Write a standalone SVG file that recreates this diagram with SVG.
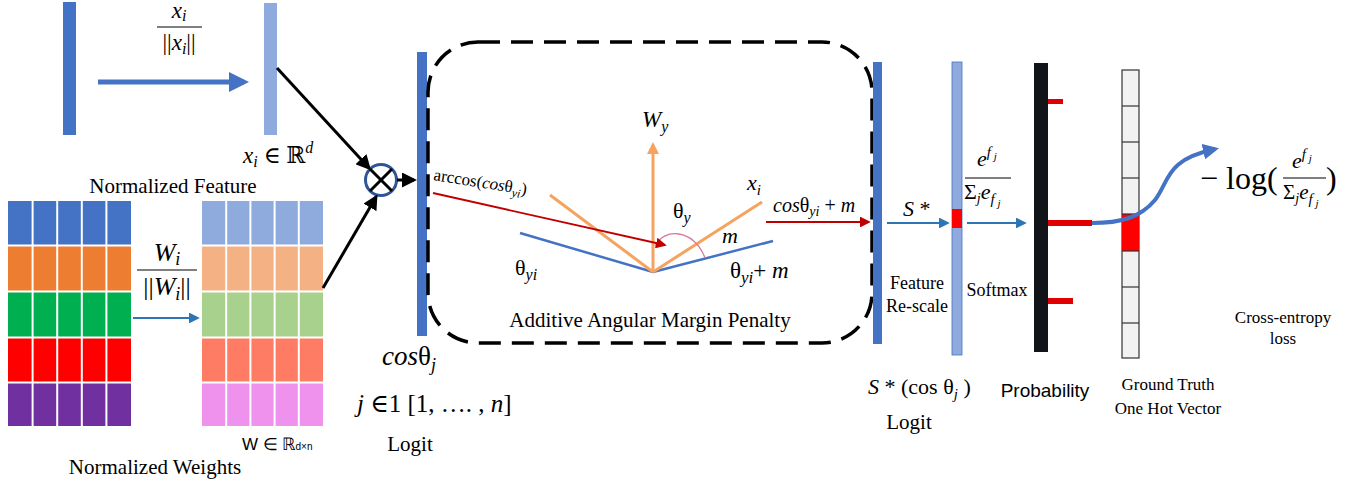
<svg xmlns="http://www.w3.org/2000/svg" width="1353" height="487" viewBox="0 0 1353 487">
<style>
.serif{font-family:"Liberation Serif","Times New Roman",serif;fill:#000}
.math{font-family:"Liberation Serif","DejaVu Serif",serif;font-style:italic;fill:#000}
.up{font-style:normal}
.sans{font-family:"Liberation Sans",Arial,sans-serif;fill:#000}
.cell{stroke:#fff;stroke-width:2}
.blk{stroke:#000;stroke-width:3;fill:none}
.thinblue{stroke:#2E75B6;stroke-width:1.8;fill:none}
.red{stroke:#C00000;stroke-width:1.8;fill:none}
.orange{stroke:#F4A460;stroke-width:3;fill:none}
.vblue{stroke:#4472C4;stroke-width:2.5;fill:none}
.frac{stroke:#000;stroke-width:1.2}
</style>
<defs>
<marker id="aBlack" markerWidth="5" markerHeight="5" refX="4" refY="2.5" orient="auto" markerUnits="strokeWidth"><path d="M0,0 L5,2.5 L0,5 z" fill="#000"/></marker>
<marker id="aBigBlue" markerWidth="4" markerHeight="4" refX="3" refY="2" orient="auto" markerUnits="strokeWidth"><path d="M0,0 L4,2 L0,4 z" fill="#4472C4"/></marker>
<marker id="aThinBlue" markerWidth="6" markerHeight="6" refX="5" refY="3" orient="auto" markerUnits="strokeWidth"><path d="M0,0 L6,3 L0,6 z" fill="#2E75B6"/></marker>
<marker id="aRed" markerWidth="6" markerHeight="6" refX="5" refY="3" orient="auto" markerUnits="strokeWidth"><path d="M0,0 L6,3 L0,6 z" fill="#C00000"/></marker>
<marker id="aOrange" markerWidth="4" markerHeight="4" refX="3" refY="2" orient="auto" markerUnits="strokeWidth"><path d="M0,0 L4,2 L0,4 z" fill="#F4A460"/></marker>
</defs>

<g id="input-feature">
<rect x="63" y="2" width="13" height="133" fill="#4472C4"/>
<text class="math" x="179" y="18" text-anchor="middle" font-size="23">x<tspan font-size="16" dy="3">i</tspan></text>
<line class="frac" x1="157" y1="27" x2="202" y2="27"/>
<text class="math" x="179" y="50" text-anchor="middle" font-size="23"><tspan class="up">||</tspan>x<tspan font-size="16" dy="4">i</tspan><tspan class="up" dy="-4">||</tspan></text>
</g>

<g id="normalized-feature">
<rect x="264" y="3" width="13" height="132" fill="#8FAADC"/>
<text class="math" x="243" y="163" font-size="23">x<tspan font-size="16" dy="4">i</tspan><tspan class="up" dy="-4"> ∈ ℝ</tspan><tspan font-size="16" dy="-10">d</tspan></text>
<text class="serif" x="173" y="193" text-anchor="middle" font-size="21">Normalized Feature</text>
</g>

<g id="weights">
<rect x="8" y="201" width="123" height="44" fill="#4472C4"/>
<rect x="8" y="246" width="123" height="45" fill="#ED7D31"/>
<rect x="8" y="292" width="123" height="45" fill="#00B050"/>
<rect x="8" y="338" width="123" height="44" fill="#FF0000"/>
<rect x="8" y="383" width="123" height="43" fill="#7030A0"/>
<g class="cell">
<line x1="32.6" y1="201" x2="32.6" y2="426"/><line x1="57.2" y1="201" x2="57.2" y2="426"/><line x1="81.8" y1="201" x2="81.8" y2="426"/><line x1="106.4" y1="201" x2="106.4" y2="426"/>
<line x1="8" y1="245.5" x2="131" y2="245.5"/><line x1="8" y1="291.5" x2="131" y2="291.5"/><line x1="8" y1="337.5" x2="131" y2="337.5"/><line x1="8" y1="382.5" x2="131" y2="382.5"/>
</g>
<text class="math" x="167" y="261" text-anchor="middle" font-size="26">W<tspan font-size="18" dy="4">i</tspan></text>
<line class="frac" x1="137" y1="270" x2="197" y2="270"/>
<text class="math" x="167" y="295" text-anchor="middle" font-size="26"><tspan class="up">||</tspan>W<tspan font-size="18" dy="5">i</tspan><tspan class="up" dy="-5">||</tspan></text>
<text class="serif" x="155" y="474" text-anchor="middle" font-size="21">Normalized Weights</text>
</g>

<g id="normalized-weights">
<rect x="202" y="201" width="121" height="44" fill="#8FAADC"/>
<rect x="202" y="246" width="121" height="45" fill="#F4B183"/>
<rect x="202" y="292" width="121" height="45" fill="#A9D18E"/>
<rect x="202" y="338" width="121" height="44" fill="#FF7C64"/>
<rect x="202" y="383" width="121" height="43" fill="#EE92EE"/>
<g class="cell">
<line x1="226.2" y1="201" x2="226.2" y2="426"/><line x1="250.4" y1="201" x2="250.4" y2="426"/><line x1="274.6" y1="201" x2="274.6" y2="426"/><line x1="298.8" y1="201" x2="298.8" y2="426"/>
<line x1="202" y1="245.5" x2="323" y2="245.5"/><line x1="202" y1="291.5" x2="323" y2="291.5"/><line x1="202" y1="337.5" x2="323" y2="337.5"/><line x1="202" y1="382.5" x2="323" y2="382.5"/>
</g>
<text class="sans" x="242" y="450" font-size="17">W ∈ ℝ<tspan font-size="10">d×n</tspan></text>
</g>

<g id="multiply">
<circle cx="381" cy="180" r="15.5" fill="#fff" stroke="#2F5597" stroke-width="3"/>
<line x1="370" y1="169" x2="392" y2="191" stroke="#000" stroke-width="3"/>
<line x1="392" y1="169" x2="370" y2="191" stroke="#000" stroke-width="3"/>
</g>

<g id="logit">
<rect x="417" y="52" width="10" height="284" fill="#4472C4"/>
<text class="math" x="382" y="365" font-size="27">cos<tspan class="up">θ</tspan><tspan font-size="18" dy="6">j</tspan></text>
<text class="math" x="357" y="412" font-size="25">j <tspan class="up">∈1 [1, …. , </tspan>n<tspan class="up">]</tspan></text>
<text class="serif" x="410" y="451" text-anchor="middle" font-size="21">Logit</text>
</g>

<g id="margin-penalty">
<rect x="428" y="42" width="444" height="301" rx="50" ry="50" fill="none" stroke="#000" stroke-width="3.5" stroke-dasharray="22 11"/>
<line class="vblue" x1="520" y1="233" x2="653" y2="272"/>
<line class="vblue" x1="653" y1="272" x2="773" y2="241"/>
<line class="orange" x1="550" y1="195" x2="653" y2="272"/>
<line class="orange" x1="653" y1="272" x2="762" y2="202"/>
<line class="orange" x1="653" y1="272" x2="653" y2="145" marker-end="url(#aOrange)"/>
<path d="M655,246 C663,228 694,228 705,258" fill="none" stroke="#D9779A" stroke-width="1.3"/>
<line class="red" x1="433" y1="193" x2="665" y2="245" marker-end="url(#aRed)"/>
<text class="math" x="642" y="127" font-size="23">W<tspan font-size="16" dy="5">y</tspan></text>
<text class="math" x="747" y="190" font-size="22">x<tspan font-size="15" dy="5">i</tspan></text>
<text class="math" x="673" y="218" font-size="22"><tspan class="up">θ</tspan><tspan font-size="16" dy="5">y</tspan></text>
<text class="math" x="722" y="243" font-size="22">m</text>
<text class="math" x="515" y="275" font-size="22"><tspan class="up">θ</tspan><tspan font-size="16" dy="5">yi</tspan></text>
<text class="math" x="730" y="278" font-size="23"><tspan class="up">θ</tspan><tspan font-size="17" dy="5">yi</tspan><tspan class="up" dy="-5">+ </tspan>m</text>
<text class="math" x="433" y="180" font-size="17" transform="rotate(9 433 180)"><tspan class="up">arccos(</tspan>cos<tspan class="up">θ</tspan><tspan font-size="12" dy="4">yi</tspan><tspan class="up" dy="-4">)</tspan></text>
<text class="math" x="773" y="212" font-size="20">cos<tspan class="up">θ</tspan><tspan font-size="14" dy="4">yi</tspan><tspan class="up" dy="-4"> + </tspan>m</text>
<text class="serif" x="650" y="327" text-anchor="middle" font-size="21">Additive Angular Margin Penalty</text>
</g>

<g id="feature-rescale">
<rect x="873" y="62" width="9" height="282" fill="#4472C4"/>
<text class="serif" x="917" y="289" text-anchor="middle" font-size="18">Feature</text>
<text class="serif" x="917" y="312" text-anchor="middle" font-size="18">Re-scale</text>
<text class="math" x="903" y="216" font-size="22">S <tspan class="up">*</tspan></text>
<text class="math" x="868" y="394" font-size="22">S <tspan class="up">* (cos θ</tspan><tspan font-size="15" dy="5">j</tspan><tspan class="up" dy="-5"> )</tspan></text>
<text class="serif" x="909" y="429" text-anchor="middle" font-size="21">Logit</text>
</g>

<g id="softmax">
<rect x="952" y="62" width="10" height="293" fill="#8FAADC" stroke="#4472C4" stroke-width="0.8"/>
<rect x="952" y="209" width="10" height="19" fill="#FF0000"/>
<text class="math" x="977" y="166" font-size="22">e<tspan font-size="15" dy="-9">f</tspan><tspan font-size="11" dy="3"> j</tspan></text>
<line class="frac" x1="965" y1="178" x2="1011" y2="178"/>
<text class="math" x="964" y="199" font-size="22"><tspan class="up">Σ</tspan><tspan font-size="14" dy="4">j</tspan><tspan dy="-4">e</tspan><tspan font-size="15" dy="5">f</tspan><tspan font-size="11" dy="3"> j</tspan></text>
<text class="serif" x="997" y="296" text-anchor="middle" font-size="18">Softmax</text>
</g>

<g id="probability">
<rect x="1034" y="63" width="14" height="289" fill="#111418"/>
<rect x="1048" y="99" width="15" height="5" fill="#E00000"/>
<rect x="1048" y="220" width="44" height="6" fill="#E00000"/>
<rect x="1048" y="298" width="25" height="6" fill="#E00000"/>
<text class="sans" x="1045" y="397" text-anchor="middle" font-size="19">Probability</text>
</g>

<g id="one-hot">
<rect x="1122" y="70" width="17" height="288" fill="#F2F2F2" stroke="#333" stroke-width="1.2"/>
<rect x="1122" y="214" width="17" height="37" fill="#FF0000"/>
<g stroke="#333" stroke-width="1.2">
<line x1="1122" y1="106" x2="1139" y2="106"/><line x1="1122" y1="142" x2="1139" y2="142"/><line x1="1122" y1="178" x2="1139" y2="178"/><line x1="1122" y1="214" x2="1139" y2="214"/><line x1="1122" y1="251" x2="1139" y2="251"/><line x1="1122" y1="287" x2="1139" y2="287"/><line x1="1122" y1="323" x2="1139" y2="323"/>
</g>
<text class="serif" x="1168" y="390" text-anchor="middle" font-size="17">Ground  Truth</text>
<text class="serif" x="1168" y="414" text-anchor="middle" font-size="17">One Hot Vector</text>
</g>

<g id="loss">
<text class="serif" x="1200" y="189" font-size="32">− log(</text>
<text class="math" x="1292" y="168" font-size="22">e<tspan font-size="15" dy="-9">f</tspan><tspan font-size="11" dy="3"> j</tspan></text>
<line class="frac" x1="1283" y1="178" x2="1326" y2="178"/>
<text class="math" x="1283" y="199" font-size="21"><tspan class="up">Σ</tspan><tspan font-size="14" dy="4">j</tspan><tspan dy="-4">e</tspan><tspan font-size="15" dy="5">f</tspan><tspan font-size="11" dy="3"> j</tspan></text>
<text class="serif" x="1326" y="189" font-size="32">)</text>
<text class="serif" x="1283" y="323" text-anchor="middle" font-size="17">Cross-entropy</text>
<text class="serif" x="1283" y="344" text-anchor="middle" font-size="17">loss</text>
</g>

<g id="connectors">
<line x1="98" y1="82" x2="244" y2="82" stroke="#4472C4" stroke-width="5" marker-end="url(#aBigBlue)"/>
<line class="blk" x1="277" y1="68" x2="369" y2="168" marker-end="url(#aBlack)"/>
<line class="blk" x1="323" y1="288" x2="376" y2="197" marker-end="url(#aBlack)"/>
<line class="blk" x1="397" y1="180" x2="414" y2="180" marker-end="url(#aBlack)"/>
<line class="thinblue" x1="133" y1="318" x2="198" y2="318" marker-end="url(#aThinBlue)"/>
<line class="red" x1="766" y1="222" x2="869" y2="222" marker-end="url(#aRed)"/>
<line class="thinblue" x1="887" y1="223" x2="948" y2="223" marker-end="url(#aThinBlue)"/>
<line class="thinblue" x1="967" y1="223" x2="1025" y2="223" marker-end="url(#aThinBlue)"/>
<path d="M1092,223 C1120,223 1140,218 1155,200 C1170,180 1165,160 1215,149" fill="none" stroke="#4472C4" stroke-width="4" marker-end="url(#aBigBlue)"/>
</g>
</svg>
